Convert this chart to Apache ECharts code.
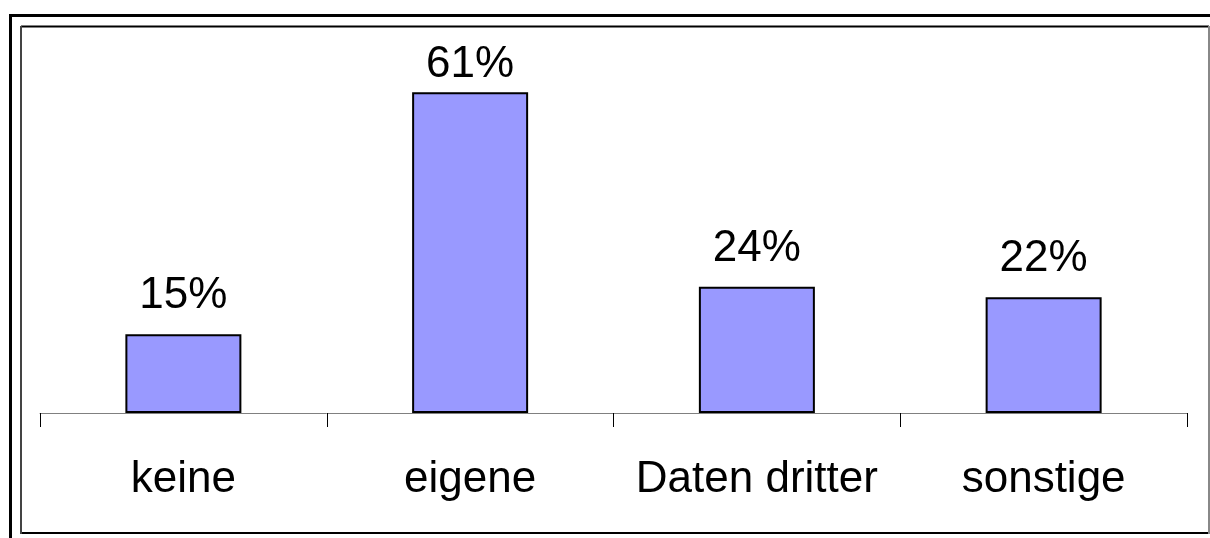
<!DOCTYPE html>
<html>
<head>
<meta charset="utf-8">
<style>html,body{margin:0;padding:0;background:#fff;}#c{width:1210px;height:538px;}</style>
<script src="https://cdn.jsdelivr.net/npm/echarts@6/dist/echarts.min.js"></script>
</head>
<body>
<div id="c"></div>
<script>
const categories = ['keine', 'eigene', 'Daten dritter', 'sonstige'];
const values = [15, 61, 24, 22];

const chart = echarts.init(document.getElementById('c'), null, {renderer: 'canvas'});
const font = '"Liberation Sans", Arial, sans-serif';
chart.setOption({
  animation: false,
  backgroundColor: '#fff',
  grid: {left: 40, right: 23, top: 45, bottom: 125},
  xAxis: {
    type: 'category',
    data: categories,
    axisLine: {lineStyle: {color: '#808080', width: 1}},
    axisTick: {show: true, interval: 0, length: 14, lineStyle: {color: '#000', width: 1}},
    axisLabel: {interval: 0, fontFamily: font, fontSize: 44, color: '#000', margin: 45}
  },
  yAxis: {type: 'value', min: 0, max: 70, show: false, splitLine: {show: false}},
  series: [{
    type: 'bar',
    barWidth: 116,
    data: values.map((v, i) => i === 1 ? {value: v, label: {distance: 5}} : v),
    itemStyle: {color: '#9999FF', borderColor: '#000', borderWidth: 2},
    label: {show: true, position: 'top', distance: 16, formatter: '{c}%', fontFamily: font, fontSize: 44, color: '#000'}
  }],
  graphic: [
    {type: 'polyline', shape: {points: [[10.5, 540], [10.5, 15.5], [1212, 15.5]]}, style: {stroke: '#000', lineWidth: 3, fill: null}, silent: true},
    {type: 'line', shape: {x1: 21, y1: 26.5, x2: 1209, y2: 26.5}, style: {stroke: '#000', lineWidth: 2}},
    {type: 'line', shape: {x1: 21, y1: 533, x2: 1209, y2: 533}, style: {stroke: '#000', lineWidth: 2}},
    {type: 'line', shape: {x1: 21, y1: 26, x2: 21, y2: 534}, style: {stroke: '#444', lineWidth: 2}},
    {type: 'line', shape: {x1: 1209, y1: 26, x2: 1209, y2: 534}, style: {stroke: '#888', lineWidth: 2}}
  ]
});
</script>
</body>
</html>
